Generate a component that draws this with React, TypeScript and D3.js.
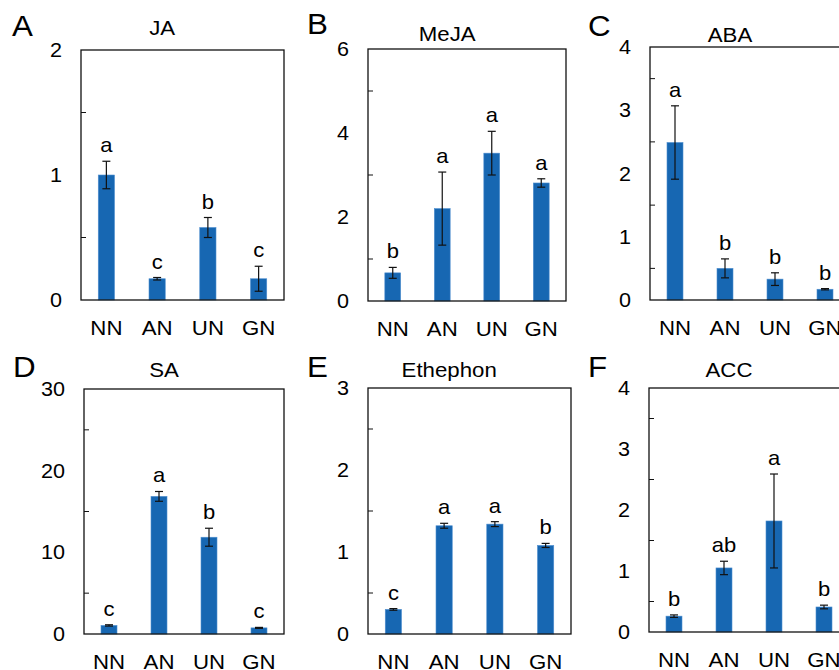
import React from 'react';
import * as d3 from 'd3';

// categories shared by every panel
const categories = ['NN', 'AN', 'UN', 'GN'];

const jaMean = [1.0, 0.17, 0.58, 0.17];
const jaErr = [0.11, 0.01, 0.08, 0.1];
const jaLetters = ['a', 'c', 'b', 'c'];

const mejaMean = [0.67, 2.2, 3.52, 2.81];
const mejaErr = [0.13, 0.87, 0.52, 0.1];
const mejaLetters = ['b', 'a', 'a', 'a'];

const abaMean = [2.49, 0.5, 0.33, 0.17];
const abaErr = [0.58, 0.15, 0.1, 0.01];
const abaLetters = ['a', 'b', 'b', 'b'];

const saMean = [1.05, 16.85, 11.85, 0.75];
const saErr = [0.08, 0.6, 1.1, 0.06];
const saLetters = ['c', 'a', 'b', 'c'];

const ethMean = [0.3, 1.32, 1.34, 1.08];
const ethErr = [0.01, 0.03, 0.03, 0.025];
const ethLetters = ['c', 'a', 'a', 'b'];

const accMean = [0.26, 1.05, 1.82, 0.41];
const accErr = [0.02, 0.11, 0.77, 0.03];
const accLetters = ['b', 'ab', 'a', 'b'];

const panelTags = ['A', 'B', 'C', 'D', 'E', 'F'];
const panelTitles = ['JA', 'MeJA', 'ABA', 'SA', 'Ethephon', 'ACC'];
const yMaxes = [2, 6, 4, 30, 3, 4];
const yTickSteps = [1, 2, 1, 10, 1, 1];

const panels = [
  { mean: jaMean, err: jaErr, letters: jaLetters },
  { mean: mejaMean, err: mejaErr, letters: mejaLetters },
  { mean: abaMean, err: abaErr, letters: abaLetters },
  { mean: saMean, err: saErr, letters: saLetters },
  { mean: ethMean, err: ethErr, letters: ethLetters },
  { mean: accMean, err: accErr, letters: accLetters },
];

// frame placement of each panel (pixels)
const layout = [
  { x: 81, y: 50, w: 203, h: 250, titleY: 35, tagX: 12, tagY: 36 },
  { x: 368, y: 49, w: 198, h: 252, titleY: 41, tagX: 307, tagY: 34 },
  { x: 650, y: 47, w: 200, h: 253, titleY: 42, tagX: 588, tagY: 36 },
  { x: 84, y: 389, w: 200, h: 245, titleY: 377, tagX: 13, tagY: 377 },
  { x: 368, y: 388, w: 203, h: 246, titleY: 377, tagX: 307, tagY: 377 },
  { x: 649, y: 388, w: 200, h: 244, titleY: 377, tagX: 588, tagY: 377 },
];

const BAR = '#1767b2';
const FONT = '"Liberation Sans", Arial, sans-serif';

const T = ({ x, y, size, sx = 1.08, anchor = 'middle', children }: any) => (
  <text
    transform={`translate(${x},${y}) scale(${sx},1)`}
    fontSize={size}
    textAnchor={anchor}
    fontFamily={FONT}
    fill="#000"
  >
    {children}
  </text>
);

const Panel = ({ i }: { i: number }) => {
  const p = panels[i];
  const L = layout[i];
  const x = d3.scaleBand().domain(categories).range([0, L.w]).paddingInner(0.68).paddingOuter(0.34);
  const y = d3.scaleLinear().domain([0, yMaxes[i]]).range([L.h, 0]);
  const major = d3.range(0, yMaxes[i] + 1e-9, yTickSteps[i]);
  const minor = major.slice(0, -1).map((v) => v + yTickSteps[i] / 2);
  const bw = x.bandwidth();

  return (
    <g>
      <T x={L.tagX} y={L.tagY} size={29} sx={1.08} anchor="start">{panelTags[i]}</T>
      <T x={L.x + L.w * 0.4} y={L.titleY} size={21} sx={1.06}>{panelTitles[i]}</T>
      <g transform={`translate(${L.x},${L.y})`}>
        {categories.map((c, k) => {
          const cx = (x(c) as number) + bw / 2;
          const top = y(p.mean[k] + p.err[k]);
          const bot = y(p.mean[k] - p.err[k]);
          return (
            <g key={c}>
              <rect x={x(c)} y={y(p.mean[k])} width={bw} height={L.h - y(p.mean[k])} fill={BAR} stroke="#4f8fd0" strokeWidth={0.6} />
              <line x1={cx} x2={cx} y1={top} y2={bot} stroke="#111" strokeWidth={1.2} />
              <line x1={cx - 4} x2={cx + 4} y1={top} y2={top} stroke="#111" strokeWidth={1.2} />
              <line x1={cx - 4} x2={cx + 4} y1={bot} y2={bot} stroke="#111" strokeWidth={1.2} />
              <T x={cx} y={top - 9} size={20} sx={1.1}>{p.letters[k]}</T>
              <T x={cx} y={L.h + 35} size={21} sx={1.06}>{c}</T>
            </g>
          );
        })}
        {minor.map((v) => (
          <line key={v} x1={0} x2={5} y1={y(v)} y2={y(v)} stroke="#111" strokeWidth={1} />
        ))}
        {major.map((v) => (
          <T key={v} x={-19} y={y(v) + 7} size={20} sx={1.08} anchor="end">{v}</T>
        ))}
        <rect x={0} y={0} width={L.w} height={L.h} fill="none" stroke="#111" strokeWidth={1.3} />
      </g>
    </g>
  );
};

export default function App() {
  return (
    <svg width={839} height={670} style={{ position: 'absolute', left: 0, top: 0, background: '#fff' }}>
      <rect width={839} height={670} fill="#fff" />
      {panels.map((_, i) => (
        <Panel key={i} i={i} />
      ))}
    </svg>
  );
}
